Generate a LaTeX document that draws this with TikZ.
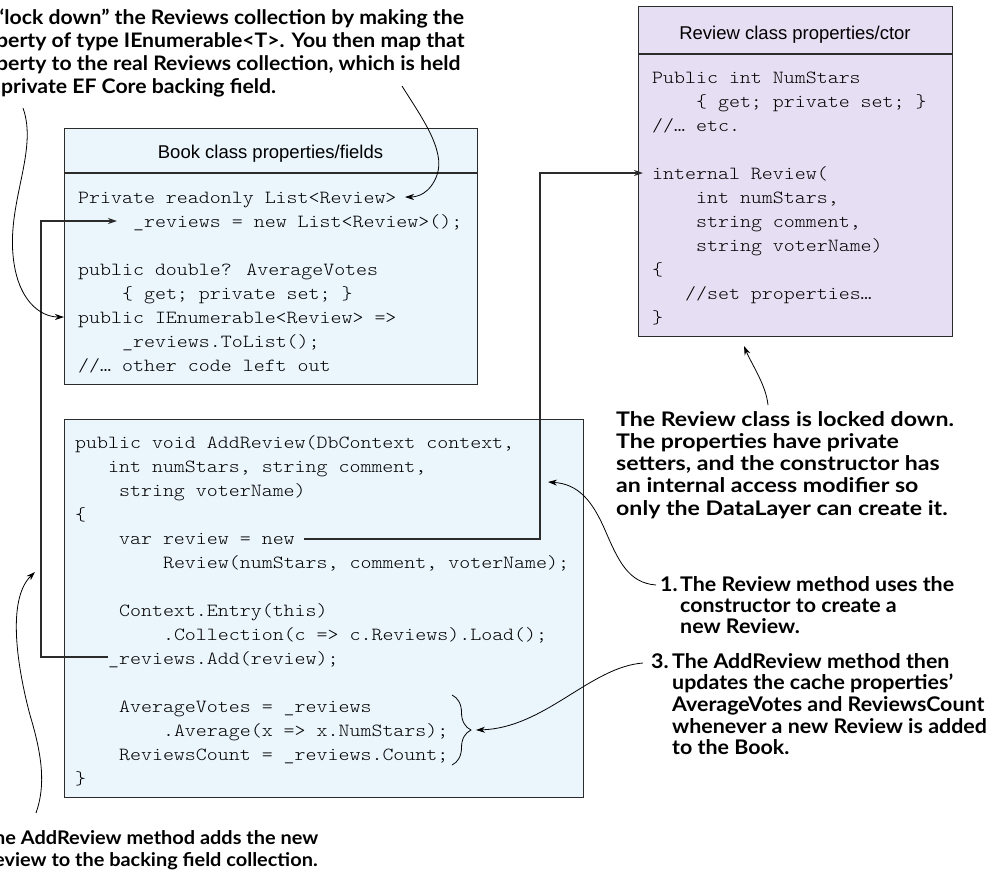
\documentclass[tikz,border=0pt]{standalone}
\usepackage{fontspec}
\setmainfont{Liberation Sans}
\newfontfamily\codefont{lmmonolt10-regular.otf}[FakeStretch=1.13]
\newfontfamily\annfont{Lato}[FakeStretch=1.06]
\newfontfamily\annfontw{Lato}[FakeStretch=1.15]
\usetikzlibrary{arrows.meta,decorations.pathreplacing}

\definecolor{bookfill}{HTML}{EAF5FC}
\definecolor{revfill}{HTML}{E6DEF2}
\definecolor{boxline}{HTML}{2B2B2B}

\newlength\cw \setlength\cw{10.98pt}
\newcommand\ind[1]{\hspace*{#1\cw}}
\newcommand\fl{\rule{0pt}{18pt}}

\begin{document}
\begin{tikzpicture}[x=1pt,y=-1pt,
  box/.style={draw=boxline, line width=1.2pt, inner sep=0pt, anchor=north west},
  code/.style={font=\codefont\fontsize{18.5}{24}\selectfont, anchor=north west, inner sep=0pt, align=left},
  head/.style={font=\fontsize{18.5}{22}\selectfont, anchor=base, inner sep=0pt},
  ann/.style={inner sep=0pt, align=left, anchor=north west},
  conn/.style={line width=0.8pt, -{Stealth[length=9pt,width=6pt]}},
  ortho/.style={line width=1.3pt, draw=boxline, -{Stealth[length=9pt,width=6pt]}},
  brc/.style={line width=0.8pt, decorate, decoration={brace, amplitude=19pt, aspect=0.5}}
]
\clip (0,0) rectangle (996,871);

% ---------- boxes ----------
\node[box, fill=bookfill, minimum width=413pt, minimum height=256pt] (book) at (64,128) {};
\draw[box] ([yshift=-45pt]book.north west) -- ([yshift=-45pt]book.north east);
\node[head] (bookh) at (270.5,158) {Book class properties/fields};

\node[box, fill=revfill, minimum width=314pt, minimum height=330pt] (rev) at (638,6) {};
\draw[box] ([yshift=-48pt]rev.north west) -- ([yshift=-48pt]rev.north east);
\node[head] (revh) at (795,39) {Review class properties/ctor};

\node[box, fill=bookfill, minimum width=519pt, minimum height=378pt] (add) at (64,419) {};

% ---------- code ----------
\node[code] (bookcode) at (78,185) {\fl Private readonly List<Review>\\
\ind{5}\_reviews = new List<Review>();\\
\mbox{}\\
public double? AverageVotes\\
\ind{4}\{ get; private set; \}\\
public IEnumerable<Review> =>\\
\ind{4}\_reviews.ToList();\\
//… other code left out};

\node[code] (revcode) at (652,65) {\fl Public int NumStars\\
\ind{4}\{ get; private set; \}\\
//… etc.\\
\mbox{}\\
internal Review(\\
\ind{4}int numStars,\\
\ind{4}string comment,\\
\ind{4}string voterName)\\
\{\\
\ind{3}//set properties…\\
\}};

\node[code] (addcode) at (75,430) {\fl public void AddReview(DbContext context,\\
\ind{3}int numStars, string comment,\\
\ind{4}string voterName)\\
\{\\
\ind{4}var review = new\\
\ind{8}Review(numStars, comment, voterName);\\
\mbox{}\\
\ind{4}Context.Entry(this)\\
\ind{8}.Collection(c => c.Reviews).Load();\\
\ind{3}\_reviews.Add(review);\\
\mbox{}\\
\ind{4}AverageVotes = \_reviews\\
\ind{8}.Average(x => x.NumStars);\\
\ind{4}ReviewsCount = \_reviews.Count;\\
\}};

% ---------- annotations ----------
\node[ann, font=\annfont\bfseries\fontsize{20}{23}\selectfont] (topnote) at (-4,6) {\fl “lock down” the Reviews collection by making the\\
perty of type IEnumerable<T>. You then map that\\
perty to the real Reviews collection, which is held\\
\hspace*{5pt}private EF Core backing field.};

\node[ann, font=\annfontw\bfseries\fontsize{20.1}{22.2}\selectfont] (locknote) at (616,408) {\fl The Review class is locked down.\\
The properties have private\\
setters, and the constructor has\\
an internal access modifier so\\
only the DataLayer can create it.};

\node[ann, font=\annfont\bfseries\fontsize{20.2}{21.2}\selectfont] (note1) at (660,573) {\fl\makebox[20pt][l]{1.}The Review method uses the\\
\hspace*{20pt}constructor to create a\\
\hspace*{20pt}new Review.};

\node[ann, font=\annfont\bfseries\fontsize{20.2}{21.6}\selectfont] (note3) at (651,650) {\fl\makebox[21pt][l]{3.}The AddReview method then\\
\hspace*{21pt}updates the cache properties’\\
\hspace*{21pt}AverageVotes and ReviewsCount\\
\hspace*{21pt}whenever a new Review is added\\
\hspace*{21pt}to the Book.};

\node[ann, font=\annfont\bfseries\fontsize{18.8}{22}\selectfont] (note2) at (-6,826) {\fl he AddReview method adds the new\\
eview to the backing field collection.};

% ---------- orthogonal connectors ----------
\coordinate (addL) at (108,657);
\coordinate (turnA) at (41,657);
\coordinate (revT) at (117,221);
\draw[ortho] (addL) -- (turnA) |- (revT);

\coordinate (newR) at (304,539);
\coordinate (turnB) at (540,539);
\coordinate (ctorT) at (643,173);
\draw[ortho] (newR) -- (turnB) |- (ctorT);

% ---------- curved callouts ----------
\coordinate (tA) at (23,108);
\coordinate (hA) at (64,317);
\draw[conn] (tA) .. controls (38,150) and (8,200) .. (13,255) .. controls (17,300) and (40,317) .. (hA);

\coordinate (tB) at (402,86);
\coordinate (hB) at (405,197);
\draw[conn] (tB) .. controls (420,115) and (446,150) .. (437,175) .. controls (430,194) and (417,197) .. (hB);

\coordinate (tC) at (768,405);
\coordinate (hC) at (744,346);
\draw[conn] (tC) .. controls (766,385) and (752,365) .. (hC);

\coordinate (t1) at (656,585);
\coordinate (h1) at (548,482);
\draw[conn] (t1) .. controls (628,583) and (618,560) .. (605,530) .. controls (592,500) and (578,484) .. (h1);

\coordinate (t3) at (643,663);
\coordinate (h3) at (476,730);
\draw[conn] (t3) .. controls (590,667) and (545,728) .. (h3);

\coordinate (t2) at (36,813);
\coordinate (h2) at (35,572);
\draw[conn] (t2) .. controls (46,785) and (42,755) .. (30,715) .. controls (18,670) and (6,600) .. (h2);

% ---------- brace ----------
\coordinate (bT) at (452,695);
\coordinate (bB) at (452,765);
\draw[brc] (bT) -- (bB);
\end{tikzpicture}
\end{document}
